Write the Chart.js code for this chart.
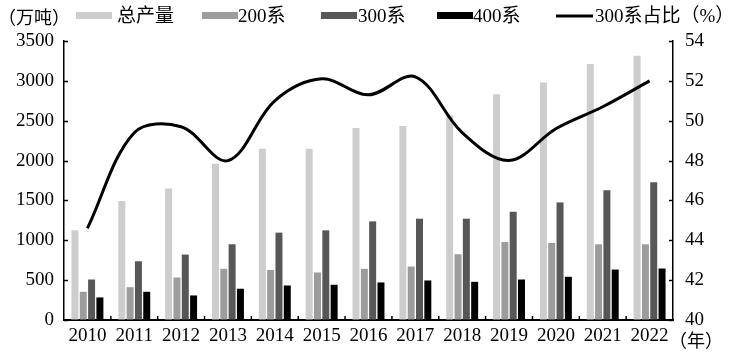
<!DOCTYPE html>
<html>
<head>
<meta charset="utf-8">
<script src="https://cdn.jsdelivr.net/npm/chart.js@4.4.1/dist/chart.umd.min.js"></script>
<style>
html,body{margin:0;padding:0;background:#fff;}
#wrap{width:729px;height:355px;position:relative;}
</style>
</head>
<body>
<div id="wrap"><canvas id="c" width="729" height="355"></canvas></div>
<script>
const years = ['2010','2011','2012','2013','2014','2015','2016','2017','2018','2019','2020','2021','2022'];
const totalOutput = [1125, 1492, 1650, 1960, 2148, 2148, 2408, 2435, 2565, 2833, 2980, 3210, 3315];
const series200 = [354, 412, 533, 642, 627, 596, 642, 671, 825, 979, 967, 950, 950];
const series300 = [508, 737, 821, 950, 1096, 1125, 1237, 1271, 1271, 1358, 1475, 1629, 1729];
const series400 = [283, 354, 308, 392, 433, 442, 471, 496, 479, 508, 542, 633, 646];
const share300 = [44.6, 49.4, 49.7, 48.0, 51.0, 52.1, 51.3, 52.2, 49.4, 48.0, 49.6, 50.7, 52.0];
const leftTicks = [0, 500, 1000, 1500, 2000, 2500, 3000, 3500];
const rightTicks = [40, 42, 44, 46, 48, 50, 52, 54];

const FONT = '"Liberation Serif", "Noto Sans CJK SC", serif';
const CJK = '"Noto Sans CJK SC", "Liberation Serif", sans-serif';

const overlay = {
  id: 'overlay',
  afterDraw(chart) {
    const ctx = chart.ctx;
    const ca = chart.chartArea;
    const y = chart.scales.y, y1 = chart.scales.y1, x = chart.scales.x;
    ctx.save();
    ctx.strokeStyle = '#000';
    ctx.lineWidth = 1.5;
    // inward ticks
    leftTicks.forEach(v => {
      const p = Math.round(y.getPixelForValue(v)) + 0.5;
      ctx.beginPath(); ctx.moveTo(ca.left, p); ctx.lineTo(ca.left + 4, p); ctx.stroke();
    });
    rightTicks.forEach(v => {
      const p = Math.round(y1.getPixelForValue(v)) + 0.5;
      ctx.beginPath(); ctx.moveTo(ca.right, p); ctx.lineTo(ca.right - 4, p); ctx.stroke();
    });
    for (let i = 1; i < years.length; i++) {
      const px = (x.getPixelForValue(i - 1) + x.getPixelForValue(i)) / 2;
      ctx.beginPath(); ctx.moveTo(px, ca.bottom); ctx.lineTo(px, ca.bottom - 4); ctx.stroke();
    }
    // titles
    ctx.fillStyle = '#000';
    ctx.textBaseline = 'middle';
    ctx.textAlign = 'left';
    ctx.font = '18px ' + CJK;
    ctx.fillText('（万吨）', -2, 17);
    ctx.fillText('（年）', 669, 340);
    // legend
    ctx.font = '19px ' + FONT;
    const ds = chart.data.datasets;
    const boxX = [76, 202, 321, 437];
    const textX = [117, 238, 358, 473];
    for (let i = 0; i < 4; i++) {
      ctx.fillStyle = ds[i].backgroundColor;
      ctx.fillRect(boxX[i], 12, 36, 7);
      ctx.fillStyle = '#000';
      ctx.fillText(ds[i].label, textX[i], 17);
    }
    ctx.beginPath();
    ctx.lineWidth = 3;
    ctx.moveTo(556, 16); ctx.lineTo(593, 16); ctx.stroke();
    ctx.fillText(ds[4].label, 595, 17);
    ctx.restore();
  }
};

new Chart(document.getElementById('c'), {
  type: 'bar',
  data: {
    labels: years,
    datasets: [
      { label: '总产量', data: totalOutput, backgroundColor: '#cdcdcd', yAxisID: 'y', order: 2 },
      { label: '200系', data: series200, backgroundColor: '#9c9c9c', yAxisID: 'y', order: 2 },
      { label: '300系', data: series300, backgroundColor: '#575757', yAxisID: 'y', order: 2 },
      { label: '400系', data: series400, backgroundColor: '#000000', yAxisID: 'y', order: 2 },
      { type: 'line', label: '300系占比（%）', data: share300, yAxisID: 'y1', order: 0,
        borderColor: '#000', borderWidth: 3, pointRadius: 0, tension: 0.35, fill: false,
        cubicInterpolationMode: 'default' }
    ]
  },
  options: {
    responsive: false,
    animation: false,
    devicePixelRatio: 1,
    layout: { padding: { top: 41, left: 0, right: 0, bottom: 0 } },
    datasets: { bar: { categoryPercentage: 0.71, barPercentage: 0.84 } },
    plugins: { legend: { display: false }, tooltip: { enabled: false } },
    scales: {
      x: {
        afterFit: s => { s.height = 35; },
        grid: { display: false, drawTicks: false },
        border: { display: true, color: '#000', width: 2 },
        ticks: { color: '#000', font: { family: FONT, size: 19 }, padding: 5, maxRotation: 0, autoSkip: false }
      },
      y: {
        position: 'left', min: 0, max: 3500,
        afterFit: s => { s.width = 64; },
        afterBuildTicks: s => { s.ticks = leftTicks.map(v => ({ value: v })); },
        grid: { drawOnChartArea: false, drawTicks: false },
        border: { display: true, color: '#000', width: 1.5 },
        ticks: { color: '#000', font: { family: FONT, size: 19 }, padding: 10, callback: v => String(v) }
      },
      y1: {
        position: 'right', min: 40, max: 54,
        afterFit: s => { s.width = 56; },
        afterBuildTicks: s => { s.ticks = rightTicks.map(v => ({ value: v })); },
        grid: { drawOnChartArea: false, drawTicks: false },
        border: { display: true, color: '#000', width: 1.5 },
        ticks: { color: '#000', font: { family: FONT, size: 19 }, padding: 12, callback: v => String(v) }
      }
    }
  },
  plugins: [overlay]
});
</script>
</body>
</html>
